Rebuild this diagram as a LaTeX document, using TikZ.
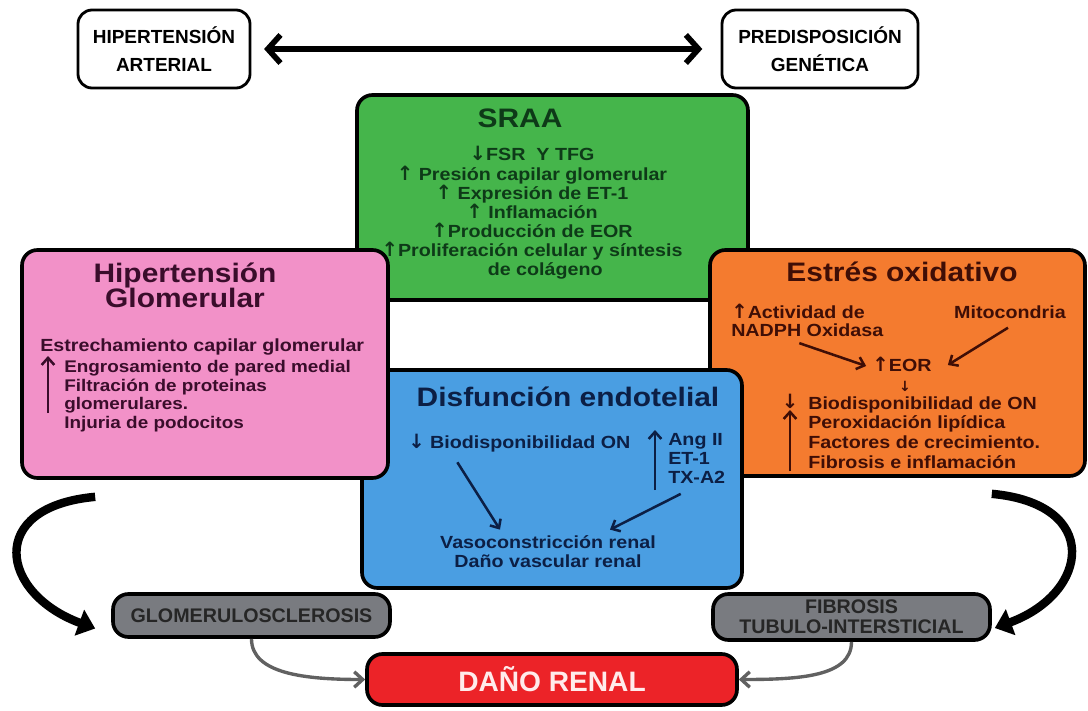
\documentclass[tikz,border=0pt]{standalone}
\usepackage{fontspec}
\setmainfont{Liberation Sans}
\newfontfamily\widefont{Liberation Sans}[FakeStretch=1.12]
\newfontfamily\arrowfont{DejaVu Sans}
\usepackage{xcolor}
\definecolor{Leaf Green}{HTML}{45B54B}
\definecolor{Candy Pink}{HTML}{F291C8}
\definecolor{Pumpkin}{HTML}{F47B2F}
\definecolor{Sky Blue}{HTML}{4A9EE2}
\definecolor{Slate}{HTML}{797B80}
\definecolor{Signal Red}{HTML}{EC2328}
\colorlet{cGreen}{Leaf Green}
\colorlet{cPink}{Candy Pink}
\colorlet{cOrange}{Pumpkin}
\colorlet{cBlue}{Sky Blue}
\colorlet{cGray}{Slate}
\colorlet{cRed}{Signal Red}
\definecolor{tGreen}{HTML}{0E3A18}
\definecolor{tPink}{HTML}{3A0D2B}
\definecolor{tOrange}{HTML}{3F0E06}
\definecolor{tBlue}{HTML}{0C1F45}
\usepackage{tikz}
\usetikzlibrary{calc, arrows.meta, fit, positioning}
\lineskiplimit=-20pt
\newcommand{\arup}{{\arrowfont\bfseries\fontsize{14}{14}\selectfont ↑}}
\newcommand{\ardown}{{\arrowfont\bfseries\fontsize{14}{14}\selectfont ↓}}
\tikzset{
	line width = 1.8pt,
	box/.style={
		draw=black,
		line width=2.6pt,
		rounded corners=11pt,
		inner sep=0pt
	},
	topbox/.style={
		box,
		fill=white,
		line width=2pt,
		rounded corners=10pt
	},
	title/.style={
		font=\widefont\fontsize{19}{17.8}\selectfont\bfseries,
		align=center,
		inner sep=0pt
	},
	body/.style={
		font=\widefont\fontsize{12.5}{13.6}\selectfont\bfseries,
		inner sep=0pt
	},
	caps/.style={
		font=\fontsize{13.5}{20}\selectfont\bfseries,
		align=center,
		inner sep=0pt
	},
	link/.style={
		-{Straight Barb[length=5pt,width=9pt]},
		line width=1.8pt
	},
	turn/.style={
		-{Triangle[length=12pt,width=19pt]},
		line width=6pt
	},
	feed/.style={
		-{Straight Barb[length=6pt,width=11pt]},
		line width=2.4pt,
		draw=black!62
	}
}

\begin{document}
\begin{tikzpicture}[x=0.025cm, y=-0.025cm]
	\useasboundingbox[fill=white] (0,0) rectangle (1088,711);
	% top row
	\node[topbox, fit={(78,10) (250,88)}] (hta) {};
	\node[topbox, fit={(722,10) (918,88)}] (pgen) {};
	\node[caps] (htatext) at (hta.center) {HIPERTENSIÓN\\ARTERIAL};
	\node[caps] (pgentext) at (pgen.center) {PREDISPOSICIÓN\\GENÉTICA};
	\draw[{Straight Barb[length=9pt,width=20pt]}-{Straight Barb[length=9pt,width=20pt]}, line width=4pt,
		shorten <=9pt, shorten >=13pt] (hta) -- (pgen);
	% coloured boxes, back to front
	\node[box, fill=cGreen, fit={(357,95) (748,300)}] (sraa) {};
	\node[box, fill=cOrange, fit={(710,250) (1085,476)}] (estres) {};
	\node[box, fill=cBlue, fit={(362,370) (742,588)}] (disf) {};
	\node[box, fill=cPink, fit={(22,250) (388,478)}] (hglom) {};
	% SRAA
	\node[title, text=tGreen] (sraatitle) at (520,118) {SRAA};
	\node[body, text=tGreen, align=center] (sraatext) at (532,213) {%
		\ardown FSR\ \ Y TFG\\
		\arup\ Presión capilar glomerular\\
		\arup\ Expresión de ET-1\\
		\arup\ Inflamación\\
		\arup Producción de EOR\\
		\arup Proliferación celular y síntesis\\
		\hspace*{1.5em}de colágeno};
	% Hipertension glomerular
	\node[title, text=tPink] (hgtitle) at (185,285) {Hipertensión\\Glomerular};
	\node[body, text=tPink, anchor=west] (estr) at (40,347) {Estrechamiento capilar glomerular};
	\node[body, text=tPink, align=left, anchor=north west, font=\widefont\fontsize{12}{13.3}\selectfont\bfseries]
		(hglist) at (64,360) {Engrosamiento de pared medial\\Filtración de proteinas\\glomerulares.\\Injuria de podocitos};
	\coordinate (hglow) at (48,413);
	\coordinate (hghigh) at (48,356);
	\draw[link, tPink] (hglow) -- (hghigh);
	% Estres oxidativo
	\node[title, text=tOrange] (estitle) at (902,272) {Estrés oxidativo};
	\node[body, text=tOrange, align=left, anchor=north west, font=\widefont\fontsize{12.5}{12.8}\selectfont\bfseries]
		(act) at (731,304) {\arup Actividad de\\NADPH Oxidasa};
	\node[body, text=tOrange] (mito) at (1010,312) {Mitocondria};
	\node[body, text=tOrange] (eor) at (902,364) {\arup EOR};
	\node[text=tOrange, inner sep=0pt, font=\arrowfont\bfseries\fontsize{10}{10}\selectfont] (eordn) at (905,386) {↓};
	\node[body, text=tOrange, align=left, anchor=north west, font=\widefont\fontsize{12.5}{14}\selectfont\bfseries]
		(oslist) at (808,396) {Biodisponibilidad de ON\\Peroxidación lipídica\\Factores de crecimiento.\\Fibrosis e inflamación};
	\node[body, text=tOrange] (osdn) at (790,401) {\ardown};
	\coordinate (oslow) at (790,471);
	\coordinate (oshigh) at (790,410);
	\draw[link, tOrange] (oslow) -- (oshigh);
	\draw[link, tOrange] ($(act.south)+(-8,6)$) -- ($(eor.west)+(-6,2)$);
	\draw[link, tOrange] ($(mito.south)+(-2,9)$) -- ($(eor.east)+(16,1)$);
	% Disfuncion endotelial
	\node[title, text=tBlue] (detitle) at (568,397) {Disfunción endotelial};
	\node[body, text=tBlue, anchor=west] (bion) at (408,443) {\ardown\ Biodisponibilidad ON};
	\node[body, text=tBlue, align=left, anchor=north west] (angs) at (668,433) {Ang II\\ET-1\\TX-A2};
	\coordinate (delow) at (655,490);
	\coordinate (dehigh) at (655,430);
	\draw[link, tBlue] (delow) -- (dehigh);
	\node[body, text=tBlue, align=center] (vaso) at (548,552) {Vasoconstricción renal\\Daño vascular renal};
	\draw[link, tBlue] ($(bion.south)+(-62,10)$) -- ($(vaso.north)+(-48,-6)$);
	\draw[link, tBlue] ($(angs.south)+(-16,10)$) -- ($(vaso.north)+(62,-6)$);
	% lesiones
	\node[box, fill=cGray, fit={(113,594) (390,637)}] (glom) {};
	\node[box, fill=cGray, fit={(713,594) (990,640)}] (fibro) {};
	\node[box, fill=cRed, fit={(367,654) (737,705)}] (dano) {};
	\node[font=\fontsize{14}{14.5}\selectfont\bfseries, text=black!85, inner sep=0pt] (glomtext) at (glom.center) {GLOMERULOSCLEROSIS};
	\node[font=\fontsize{14}{14.5}\selectfont\bfseries, text=black!85, align=center, inner sep=0pt] (fibrotext) at (fibro.center) {FIBROSIS\\TUBULO-INTERSTICIAL};
	\node[font=\fontsize{20}{20}\selectfont\bfseries, text=red!8, inner sep=0pt] (danotext) at (dano.center) {DAÑO RENAL};
	% flechas curvas
	\draw[turn] ($(hglom.south west)+(75,17)$) .. controls +(-110,10) and +(-95,-35) .. ($(glom.west)+(-16,13)$);
	\draw[turn] ($(estres.south east)+(-95,16)$) .. controls +(110,10) and +(95,-35) .. ($(fibro.east)+(3,11)$);
	\draw[feed] (glom.south) .. controls +(0,35) and +(-60,0) .. (dano.west);
	\draw[feed] (fibro.south) .. controls +(0,35) and +(60,0) .. (dano.east);
\end{tikzpicture}
\end{document}
